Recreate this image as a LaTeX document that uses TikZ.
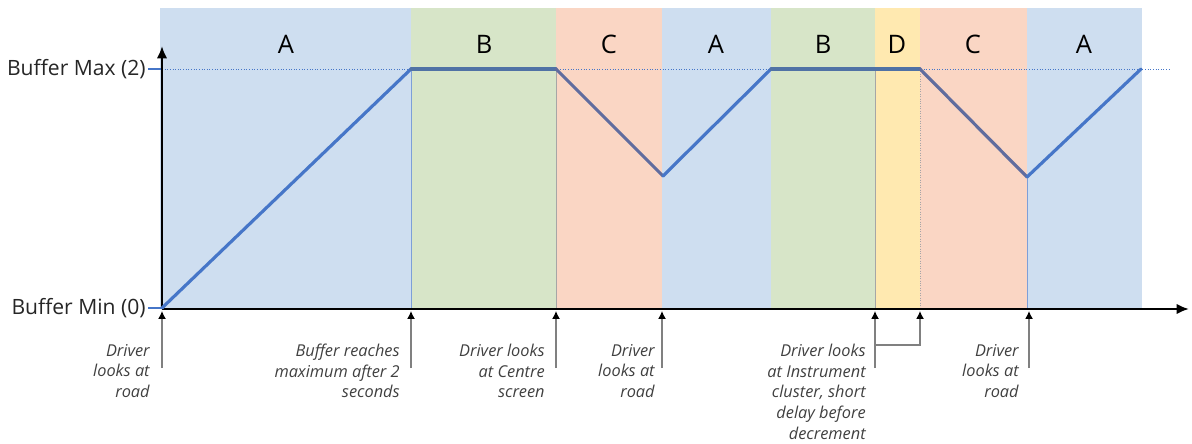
\documentclass[tikz,border=0pt]{standalone}
\usepackage{fontspec}
\setmainfont{Open Sans}
\usetikzlibrary{arrows.meta}

\definecolor{regA}{RGB}{206,222,240}
\definecolor{regB}{RGB}{215,229,200}
\definecolor{regC}{RGB}{250,214,196}
\definecolor{regD}{RGB}{255,233,176}
\definecolor{riseblue}{RGB}{70,118,200}
\definecolor{fallblue}{RGB}{96,108,158}
\definecolor{flatblue}{RGB}{80,114,165}

\tikzset{
    zone/.style={font=\fontsize{14.5}{17}\selectfont, text=black},
    level/.style={font=\fontsize{12}{14}\selectfont, text=black!85, anchor=east, inner sep=0pt},
    note/.style={font=\fontsize{9.3}{11.7}\selectfont\itshape, text=black!75, align=right, anchor=north east, inner sep=0pt},
    marker/.style={draw=black!50, line width=0.7pt, -{Latex[black,length=4.5pt,width=4.5pt]}},
    axis/.style={line width=1.4pt, -{Latex[length=7pt,width=6pt]}},
    rise/.style={riseblue, line width=1.8pt, line cap=round},
    fall/.style={fallblue, line width=1.8pt, line cap=round},
    flat/.style={flatblue, line width=1.8pt, line cap=round},
}

\begin{document}
\begin{tikzpicture}[x=0.02cm, y=-0.02cm]
    \useasboundingbox (0,0) rectangle (1192,443);

    % Regions
    \fill[regA] (160,8) rectangle (411,309);
    \fill[regB] (411,8) rectangle (556,309);
    \fill[regC] (556,8) rectangle (662,309);
    \fill[regA] (662,8) rectangle (771,309);
    \fill[regB] (771,8) rectangle (875,309);
    \fill[regD] (875,8) rectangle (920,309);
    \fill[regC] (920,8) rectangle (1027,309);
    \fill[regA] (1027,8) rectangle (1142,309);
    \node[zone] (a1) at (286,44) {A};
    \node[zone] (b1) at (484,44) {B};
    \node[zone] (c1) at (609,44) {C};
    \node[zone] (a2) at (716,44) {A};
    \node[zone] (b2) at (823,44) {B};
    \node[zone] (d1) at (897,44) {D};
    \node[zone] (c2) at (973,44) {C};
    \node[zone] (a3) at (1084,44) {A};

    % Region borders
    \draw[riseblue!70, line width=0.5pt] (411,69) -- (411,309);
    \draw[black!35, line width=0.4pt] (556,69) -- (556,309);
    \draw[black!35, line width=0.4pt] (875,69) -- (875,309);
    \draw[black!35, line width=0.4pt, densely dotted] (920,69) -- (920,309);
    \draw[riseblue!70, line width=0.5pt] (1027,177) -- (1027,309);

    % Levels
    \node[level] (maxlabel) at (146,69) {Buffer Max (2)};
    \node[level] (minlabel) at (146,308) {Buffer Min (0)};
    \draw[riseblue, line width=0.5pt, densely dotted] (162,69) -- (1171,69);
    \draw[riseblue, line width=1.2pt] (148,69) -- (162,69);
    \draw[riseblue, line width=1.2pt] (148,308) -- (162,308);

    % Axes
    \coordinate (origin) at (162,309);
    \coordinate (yend) at (162,46);
    \coordinate (xend) at (1189,309);
    \draw[axis] (origin) -- (yend);
    \draw[axis] (origin) -- (xend);

    % Buffer
    \coordinate (p0) at (162,308);
    \coordinate (p1) at (411,69);
    \coordinate (p2) at (556,69);
    \coordinate (p3) at (663,176);
    \coordinate (p4) at (771,69);
    \coordinate (p5) at (920,69);
    \coordinate (p6) at (1027,177);
    \coordinate (p7) at (1141,69);
    \draw[rise] (p0) -- (p1);
    \draw[flat] (p1) -- (p2);
    \draw[fall] (p2) -- (p3);
    \draw[rise] (p3) -- (p4);
    \draw[flat] (p4) -- (p5);
    \draw[fall] (p5) -- (p6);
    \draw[rise] (p6) -- (p7);

    % Notes
    \node[note] (n0) at (150,344) {Driver\\looks at\\road};
    \node[note] (n1) at (400,344) {Buffer reaches\\maximum after 2\\seconds};
    \node[note] (n2) at (545,344) {Driver looks\\at Centre\\screen};
    \node[note] (n3) at (655,344) {Driver\\looks at\\road};
    \node[note] (n4) at (866,344) {Driver looks\\at Instrument\\cluster, short\\delay before\\decrement};
    \node[note] (n5) at (1019,344) {Driver\\looks at\\road};

    % Arrows
    \coordinate (s0) at (162,368); \coordinate (t0) at (162,311);
    \coordinate (s1) at (411,368); \coordinate (t1) at (411,311);
    \coordinate (s2) at (556,368); \coordinate (t2) at (556,311);
    \coordinate (s3) at (662,368); \coordinate (t3) at (662,311);
    \coordinate (s4) at (875,368); \coordinate (t4) at (875,311);
    \coordinate (s5) at (875,345); \coordinate (t5) at (920,311);
    \coordinate (s6) at (1029,368); \coordinate (t6) at (1029,311);
    \draw[marker] (s0) -- (t0);
    \draw[marker] (s1) -- (t1);
    \draw[marker] (s2) -- (t2);
    \draw[marker] (s3) -- (t3);
    \draw[marker] (s4) -- (t4);
    \draw[marker] (s5) -| (t5);
    \draw[marker] (s6) -- (t6);
\end{tikzpicture}
\end{document}
